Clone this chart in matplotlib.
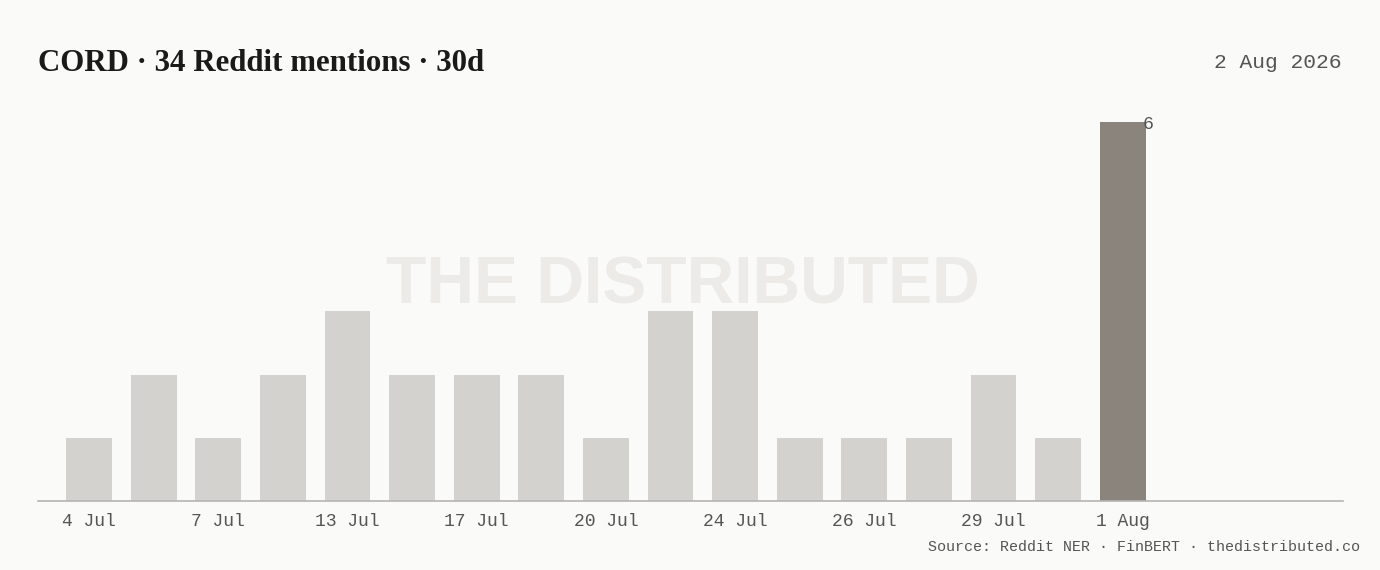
import matplotlib
matplotlib.use("Agg")
import matplotlib.pyplot as plt

# ---- data ----
tick_labels = ["4 Jul", "", "7 Jul", "", "13 Jul", "", "17 Jul", "", "20 Jul", "",
               "24 Jul", "", "26 Jul", "", "29 Jul", "", "1 Aug"]
mentions = [1, 2, 1, 2, 3, 2, 2, 2, 1, 3, 3, 1, 1, 1, 2, 1, 6]
title = "CORD · 34 Reddit mentions · 30d"
date_text = "2 Aug 2026"
source_text = "Source: Reddit NER · FinBERT · thedistributed.co"
watermark = "THE DISTRIBUTED"

BG = "#fafaf8"
LIGHT = "#d3d2ce"
DARK = "#8a847c"
TXT = "#555555"
MONO = "Liberation Mono"

W, H = 1380, 570
fig = plt.figure(figsize=(W / 100, H / 100), dpi=100, facecolor=BG)
ax = fig.add_axes([38 / W, (H - 501) / H, (1343 - 38) / W, (501 - 100) / H])
ax.set_facecolor(BG)

# watermark
fig.text(683 / W, 1 - 286 / H, watermark, ha="center", va="center",
         fontsize=47.5, fontweight="bold", family="Liberation Sans",
         color="#ecebe8", zorder=0)

x = list(range(len(mentions)))
colors = [LIGHT] * (len(mentions) - 1) + [DARK]
ax.bar(x, mentions, width=0.71, color=colors, zorder=2)

# value label on last bar
ax.annotate(str(mentions[-1]), (x[-1] + 0.31, mentions[-1]), xytext=(0, -2),
            textcoords="offset points", ha="left", va="center",
            fontsize=13, family=MONO, color=TXT, zorder=3)

ax.set_xlim(-0.79, 19.41)
ax.set_ylim(0, 401 / 63.17)
ax.set_xticks(x)
ax.set_xticklabels(tick_labels, family=MONO, fontsize=13, color=TXT)
ax.tick_params(axis="x", length=0, pad=9)
ax.set_yticks([])
for s in ["top", "right", "left"]:
    ax.spines[s].set_visible(False)
ax.spines["bottom"].set_color("#b5b4b0")
ax.spines["bottom"].set_linewidth(1.2)
ax.patch.set_alpha(0)

fig.text(38 / W, 1 - 71 / H, title, ha="left", va="baseline", fontsize=22.2,
         fontweight="bold", family="Liberation Serif", color="#1a1a1a")
fig.text(1341 / W, 1 - 63 / H, date_text, ha="right", va="center", fontsize=15.3,
         family=MONO, color=TXT)
fig.text(1360 / W, 1 - 547 / H, source_text, ha="right", va="center", fontsize=10.8,
         family=MONO, color=TXT)

fig.savefig("out.png", dpi=100, facecolor=BG)
